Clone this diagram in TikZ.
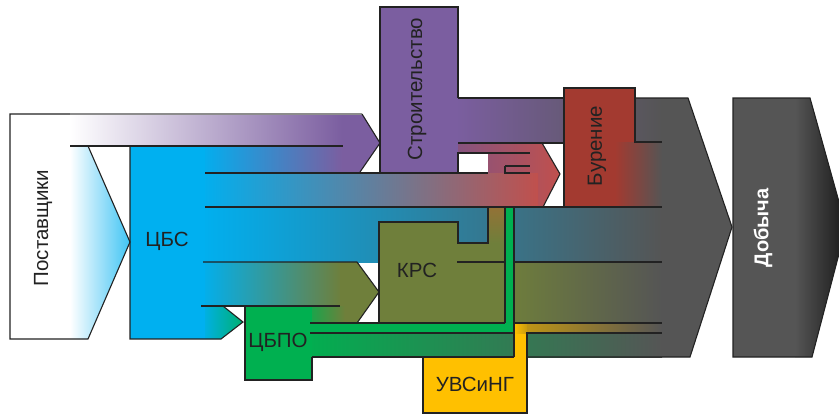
\documentclass[tikz,border=0pt]{standalone}
\usepackage{fontspec}
\setmainfont{Liberation Sans}
\definecolor{cblue}{HTML}{00B0F0}
\definecolor{cpurple}{HTML}{7B5EA0}
\definecolor{cred}{HTML}{A33A30}
\definecolor{cred2}{HTML}{C0504D}
\definecolor{colive}{HTML}{6F7F3B}
\definecolor{cgreen}{HTML}{00B050}
\definecolor{cgreen2}{HTML}{00B070}
\definecolor{cyellow}{HTML}{FFC000}
\definecolor{cgold}{HTML}{C89A10}
\definecolor{cbrown}{HTML}{937236}
\definecolor{cgray}{HTML}{555555}
\definecolor{cline}{HTML}{222222}
\begin{document}
\begin{tikzpicture}[x=1pt,y=-1pt,
  ln/.style={draw=cline,line width=1.1pt,line join=miter},
  lbl/.style={font=\fontsize{20.5}{24}\selectfont,text=cline,inner sep=0pt}]
\useasboundingbox (0,0) rectangle (839,416);
\clip (0,0) rectangle (839,416);

% gray arrow into Dobycha
\fill[cgray] (590,98) -- (688,98) -- (732,227) -- (690,357) -- (590,357) -- cycle;

% Postavshchiki chevron
\shade[left color=white,right color=cblue!75] (70,146) -- (88,146) -- (130,242) -- (88,339) -- (70,339) -- cycle;

% arrow to Stroitelstvo
\fill[cpurple] (340,114) -- (362,114) -- (380,143) -- (360,172) -- (340,172) -- cycle;
\shade[left color=cblue,right color=cpurple] (200,146) rectangle (342,173);
\shade[left color=white,right color=cpurple] (70,114) rectangle (342,146);

% Stroitelstvo -> Dobycha band
\shade[left color=cpurple,right color=cgray] (455,98) rectangle (662,143);
% Stroitelstvo box
\fill[cpurple] (380,7) rectangle (458,173);

% bands to Dobycha
\shade[left color=cblue,right color=cgray] (200,207) rectangle (662,262);
\shade[left color=colive,right color=cgray] (505,262) rectangle (662,323);
\shade[left color=cgold,right color=cgray] (514,323) rectangle (662,333);
\shade[left color=cgreen,right color=cgray] (300,333) rectangle (662,357);

% Burenie box and band
\fill[cred] (564,88) rectangle (635,207);
\shade[left color=cred,right color=cgray] (615,142) rectangle (662,207);

% KRS box and pipe
\fill[colive] (379,222) -- (458,222) -- (458,243) -- (488,243) -- (488,207) -- (505,207) -- (505,323) -- (379,323) -- cycle;
\shade[top color=cbrown,bottom color=colive] (488,207) rectangle (505,243);

% green pipe (CBPO -> Burenie)
\fill[cgreen] (300,323) -- (505,323) -- (505,207) -- (514,207) -- (514,333) -- (300,333) -- cycle;

% UVSiNG box and pipe
\fill[cyellow] (423,357) rectangle (527,413);
\fill[cyellow] (514,323) rectangle (527,357);
\shade[left color=cyellow,right color=cgold] (514,323) rectangle (527,333);

% red arrow to Burenie
\shade[left color=cpurple!70!cred,right color=cred2] (458,143) -- (542,143) -- (560,174) -- (543,207) -- (536,207) -- (536,173) -- (488,173) -- (488,153) -- (458,153) -- cycle;
\shade[left color=cblue,right color=cred2] (200,173) rectangle (538,207);

% arrow to KRS
\shade[left color=cblue,right color=colive] (200,262) rectangle (342,306);
\fill[colive] (340,262) -- (357,262) -- (379,292) -- (357,323) -- (340,323) -- cycle;
\shade[left color=cgreen,right color=colive] (300,306) rectangle (345,323);

% arrow CBS -> CBPO
\shade[left color=cblue,right color=cgreen2] (200,306) -- (223,306) -- (243,322) -- (221,339) -- (200,339) -- cycle;

% CBPO box
\fill[cgreen] (245,306) rectangle (312,380);

% CBS box
\fill[cblue] (130,146) rectangle (205,339);

% Dobycha box
\fill[cgray] (733,98) -- (810,98) -- (846,227) -- (812,357) -- (733,357) -- cycle;
\begin{scope}
  \clip (733,98) -- (810,98) -- (846,227) -- (812,357) -- (733,357) -- cycle;
  \shade[left color=cgray,right color=black!90] (795,90) rectangle (846,365);
\end{scope}

% ---- outlines ----
\draw[ln] (70,114) -- (10,114) -- (10,339) -- (88,339) -- (130,242) -- (88,146) -- (70,146);
\draw[ln,draw=black!45] (70,114) -- (362,114);
\draw[ln] (362,114) -- (380,143) -- (360,172);
\draw[ln] (70,146) -- (343,146);
\draw[ln] (130,146) -- (130,339) -- (221,339) -- (243,322) -- (223,306);
\draw[ln] (201,306) -- (340,306);
\draw[ln] (205,173) -- (488,173);
\draw[ln] (205,207) -- (662,207);
\draw[ln] (203,262) -- (357,262) -- (379,292) -- (357,323);
\draw[ln] (457,262) -- (505,262);
\draw[ln] (514,262) -- (662,262);
% Stroitelstvo
\draw[ln] (458,98) -- (458,7) -- (380,7) -- (380,173);
\draw[ln] (458,173) -- (458,153) -- (530,153);
\draw[ln] (458,98) -- (564,98);
\draw[ln] (458,143) -- (563,143);
% red arrow
\draw[ln] (542,143) -- (560,174) -- (543,207);
\draw[ln] (505,166) -- (530,166);
\draw[ln] (505,166) -- (505,173) -- (530,173);
% Burenie
\draw[ln] (564,207) -- (564,88) -- (635,88) -- (635,142) -- (662,142);
% gray arrow
\draw[ln] (635,98) -- (688,98) -- (732,227) -- (690,357) -- (527,357);
% KRS
\draw[ln] (379,323) -- (379,222) -- (458,222) -- (458,243) -- (488,243) -- (488,207);
\draw[ln] (505,207) -- (505,323);
\draw[ln] (310,323) -- (505,323);
\draw[ln] (514,207) -- (514,357);
\draw[ln] (514,323) -- (662,323);
\draw[ln] (310,333) -- (514,333);
% UVSiNG
\draw[ln] (514,357) -- (423,357) -- (423,413) -- (527,413) -- (527,333) -- (662,333);
% CBPO
\draw[ln] (312,357) -- (423,357);
\draw[ln] (312,357) -- (312,380) -- (245,380) -- (245,306);
% Dobycha
\draw[ln] (733,98) -- (810,98) -- (846,227) -- (812,357) -- (733,357) -- cycle;

% ---- labels ----
\node[lbl,rotate=90] (post) at (43,228) {Поставщики};
\node[lbl] (cbs) at (167,241) {ЦБС};
\node[lbl,rotate=90] (str) at (417,89) {Строительство};
\node[lbl,rotate=90] (bur) at (597,146) {Бурение};
\node[lbl] (krs) at (417,270) {КРС};
\node[lbl] (cbpo) at (278,342) {ЦБПО};
\node[lbl] (uvs) at (475,384) {УВСиНГ};
\node[lbl,text=white,font=\fontsize{20}{24}\selectfont\bfseries,rotate=90] (dob) at (763,228) {Добыча};
\end{tikzpicture}
\end{document}
